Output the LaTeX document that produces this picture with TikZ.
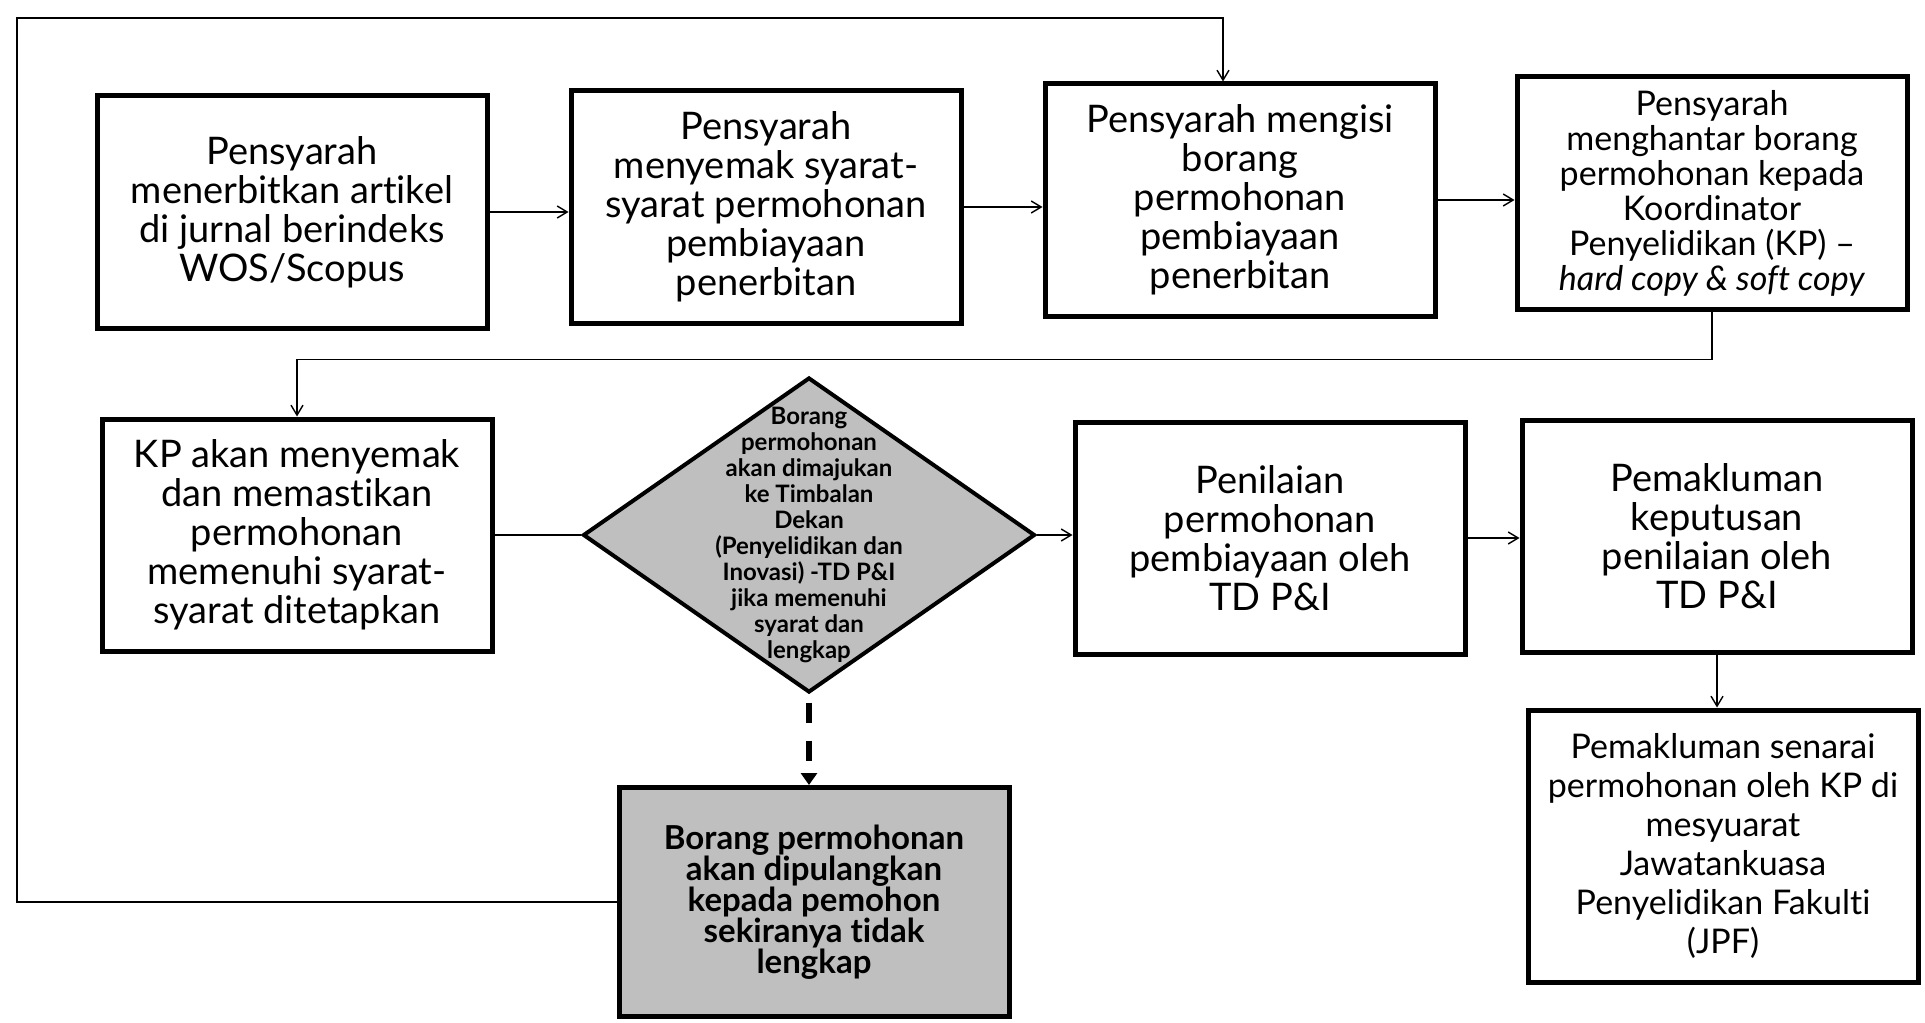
\documentclass[tikz,border=0pt]{standalone}
\usepackage{fontspec}
\setmainfont{Lato}[Ligatures=NoCommon]
\usetikzlibrary{shapes.geometric,arrows.meta}

\begin{document}
\begin{tikzpicture}
  [x=0.5pt,y=-0.5pt,
   box/.style={draw,line width=2.5pt,align=center,inner sep=0pt,
     minimum width=195pt,minimum height=116pt,font=\fontsize{19}{19.5}\selectfont},
   smallbox/.style={box,font=\fontsize{17}{17.5}\selectfont},
   greybox/.style={box,fill=black!25,font=\bfseries\fontsize{16.5}{15.5}\selectfont},
   decision/.style={diamond,draw,line width=2pt,fill=black!25,inner sep=0pt,
     minimum width=226pt,minimum height=157.5pt},
   arr/.style={line width=0.7pt,-{Straight Barb[length=5pt,width=6pt]}},
   dashedarr/.style={line width=3pt,dash pattern=on 10pt off 9pt,dash phase=-4pt,
     -{Triangle[length=6pt,width=8pt]}}]
  \useasboundingbox (0,0) rectangle (1925,1022);

  \node[box] (p1) at (292,212) {Pensyarah\\menerbitkan artikel\\di jurnal berindeks\\WOS/Scopus};
  \node[box] (p2) at (766,207) {Pensyarah\\menyemak syarat-\\syarat permohonan\\pembiayaan\\penerbitan};
  \node[box] (p3) at (1240,200) {Pensyarah mengisi\\borang\\permohonan\\pembiayaan\\penerbitan};
  \node[smallbox] (p4) at (1712,193) {Pensyarah\\menghantar borang\\permohonan kepada\\Koordinator\\Penyelidikan (KP) --\\\textit{hard copy \& soft copy}};
  \node[box] (p5) at (297,535) {KP akan menyemak\\dan memastikan\\permohonan\\memenuhi syarat-\\syarat ditetapkan};
  \node[decision,label={[align=center,font=\bfseries\fontsize{12}{13}\selectfont]center:Borang\\permohonan\\akan dimajukan\\ke Timbalan\\Dekan\\(Penyelidikan dan\\Inovasi) -TD P\&I\\jika memenuhi\\syarat dan\\lengkap}] (d1) at (809,535) {};
  \node[box] (p6) at (1270,538) {Penilaian\\permohonan\\pembiayaan oleh\\TD P\&I};
  \node[box] (p7) at (1717,536) {Pemakluman\\keputusan\\penilaian oleh\\TD P\&I};
  \node[smallbox,minimum height=136pt,font=\fontsize{17}{19.5}\selectfont] (p8) at (1723,846) {Pemakluman senarai\\permohonan oleh KP di\\mesyuarat\\Jawatankuasa\\Penyelidikan Fakulti\\(JPF)};
  \node[greybox,minimum height=114.5pt] (p9) at (814,902) {Borang permohonan\\akan dipulangkan\\kepada pemohon\\sekiranya tidak\\lengkap};

  \coordinate (c1) at (17,18);

  \draw[arr] (p1.east) -- (p1.east -| p2.west);
  \draw[arr] (p2.east) -- (p2.east -| p3.west);
  \draw[arr] (p3.east) -- (p3.east -| p4.west);
  \draw[arr] (p4.south) -- ++(0,48) -| (p5.north);
  \draw[line width=0.7pt] (p5.east) -- (d1.west);
  \draw[arr] (d1.east) -- (d1.east -| p6.west);
  \draw[arr] (p6.east) -- (p6.east -| p7.west);
  \draw[arr] (p7.south) -- (p7.south |- p8.north);
  \draw[dashedarr] (d1.south) -- (d1.south |- p9.north);

  % back to the form when not complete
  \draw[arr] (p9.west) -| (c1) -| ([xshift=-8.5pt]p3.north);
\end{tikzpicture}
\end{document}
